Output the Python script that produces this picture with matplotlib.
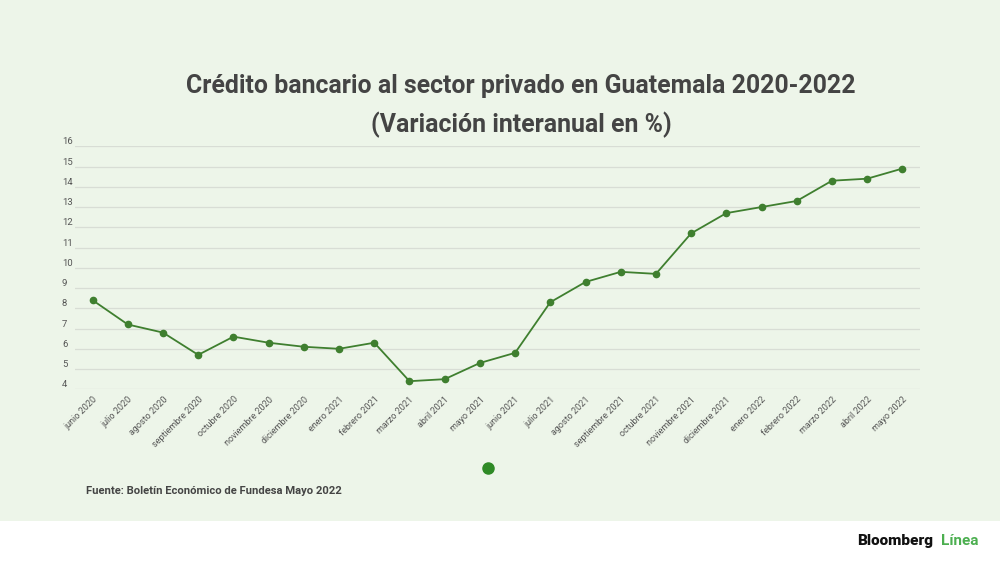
import matplotlib
matplotlib.use('Agg')
import matplotlib.pyplot as plt
from matplotlib.patches import Rectangle
from matplotlib.lines import Line2D

# ============================   Data   ======================================
months = ['junio 2020', 'julio 2020', 'agosto 2020', 'septiembre 2020', 'octubre 2020',
          'noviembre 2020', 'diciembre 2020', 'enero 2021', 'febrero 2021', 'marzo 2021',
          'abril 2021', 'mayo 2021', 'junio 2021', 'julio 2021', 'agosto 2021',
          'septiembre 2021', 'octubre 2021', 'noviembre 2021', 'diciembre 2021',
          'enero 2022', 'febrero 2022', 'marzo 2022', 'abril 2022', 'mayo 2022']
credit_growth = [8.4, 7.2, 6.8, 5.7, 6.6, 6.3, 6.1, 6.0, 6.3, 4.4, 4.5, 5.3, 5.8,
                 8.3, 9.3, 9.8, 9.7, 11.7, 12.7, 13.0, 13.3, 14.3, 14.4, 14.9]
y_ticks = list(range(4, 17))

title_1 = 'Crédito bancario al sector privado en Guatemala 2020-2022'
title_2 = '(Variación interanual en %)'
source = 'Fuente: Boletín Económico de Fundesa Mayo 2022'

# ============================   Plot   ======================================
BG = '#edf5e9'
LINE = '#3f7f2f'
TXT = '#444444'

plt.rcParams['font.family'] = ['Roboto', 'DejaVu Sans']

fig = plt.figure(figsize=(10, 5.62), dpi=100, facecolor=BG)
fig.patches.append(Rectangle((0, 0), 1, 41 / 562, transform=fig.transFigure,
                             facecolor='white', edgecolor='none', zorder=0))

ax = fig.add_axes([0.075, 0.3073, 0.845, 0.4324])
ax.set_facecolor(BG)

x = list(range(len(months)))
ax.plot(x, credit_growth, color=LINE, linewidth=1.3, marker='o', markersize=4.5,
        markerfacecolor=LINE, markeredgecolor=LINE, zorder=3)

ax.set_xlim(-0.5, len(months) - 0.5)
ax.set_ylim(4, 16)
ax.set_yticks(y_ticks)
ax.set_xticks(x)
ax.set_xticklabels(months, rotation=45, ha='right', rotation_mode='anchor',
                   fontsize=6.5, color='#555555')
ax.set_yticklabels([str(v) for v in y_ticks], fontsize=6.8, color='#555555')
for lbl in ax.get_yticklabels():
    lbl.set_ha('left')
    lbl.set_va('bottom')
ax.tick_params(axis='y', length=0, pad=9.4)
ax.tick_params(axis='x', length=0, pad=4)
ax.grid(axis='y', color='#d8ddd5', linewidth=0.9)
ax.set_axisbelow(True)
for s in ax.spines.values():
    s.set_visible(False)

fig.text(0.521, 1 - 86 / 562, title_1, ha='center', va='center',
         fontsize=17.9, fontweight='bold', color=TXT)
fig.text(0.521, 1 - 125 / 562, title_2, ha='center', va='center',
         fontsize=17.9, fontweight='bold', color=TXT)

# legend dot
fig.add_artist(Line2D([0.488], [1 - 468 / 562], transform=fig.transFigure,
                      marker='o', markersize=8, color='#2f8a26', linestyle='none'))
fig.text(0.086, 1 - 491 / 562, source, ha='left', va='center',
         fontsize=8.15, fontweight='bold', color=TXT)

# logo
fig.text(0.857, 1 - 541 / 562, 'Bloomberg', ha='left', va='center',
         fontsize=11, fontweight='heavy', color='#111111')
fig.text(0.941, 1 - 541 / 562, 'Línea', ha='left', va='center',
         fontsize=11, fontweight='bold', color='#4caf50')

fig.savefig('out.png', dpi=100, facecolor=BG)
